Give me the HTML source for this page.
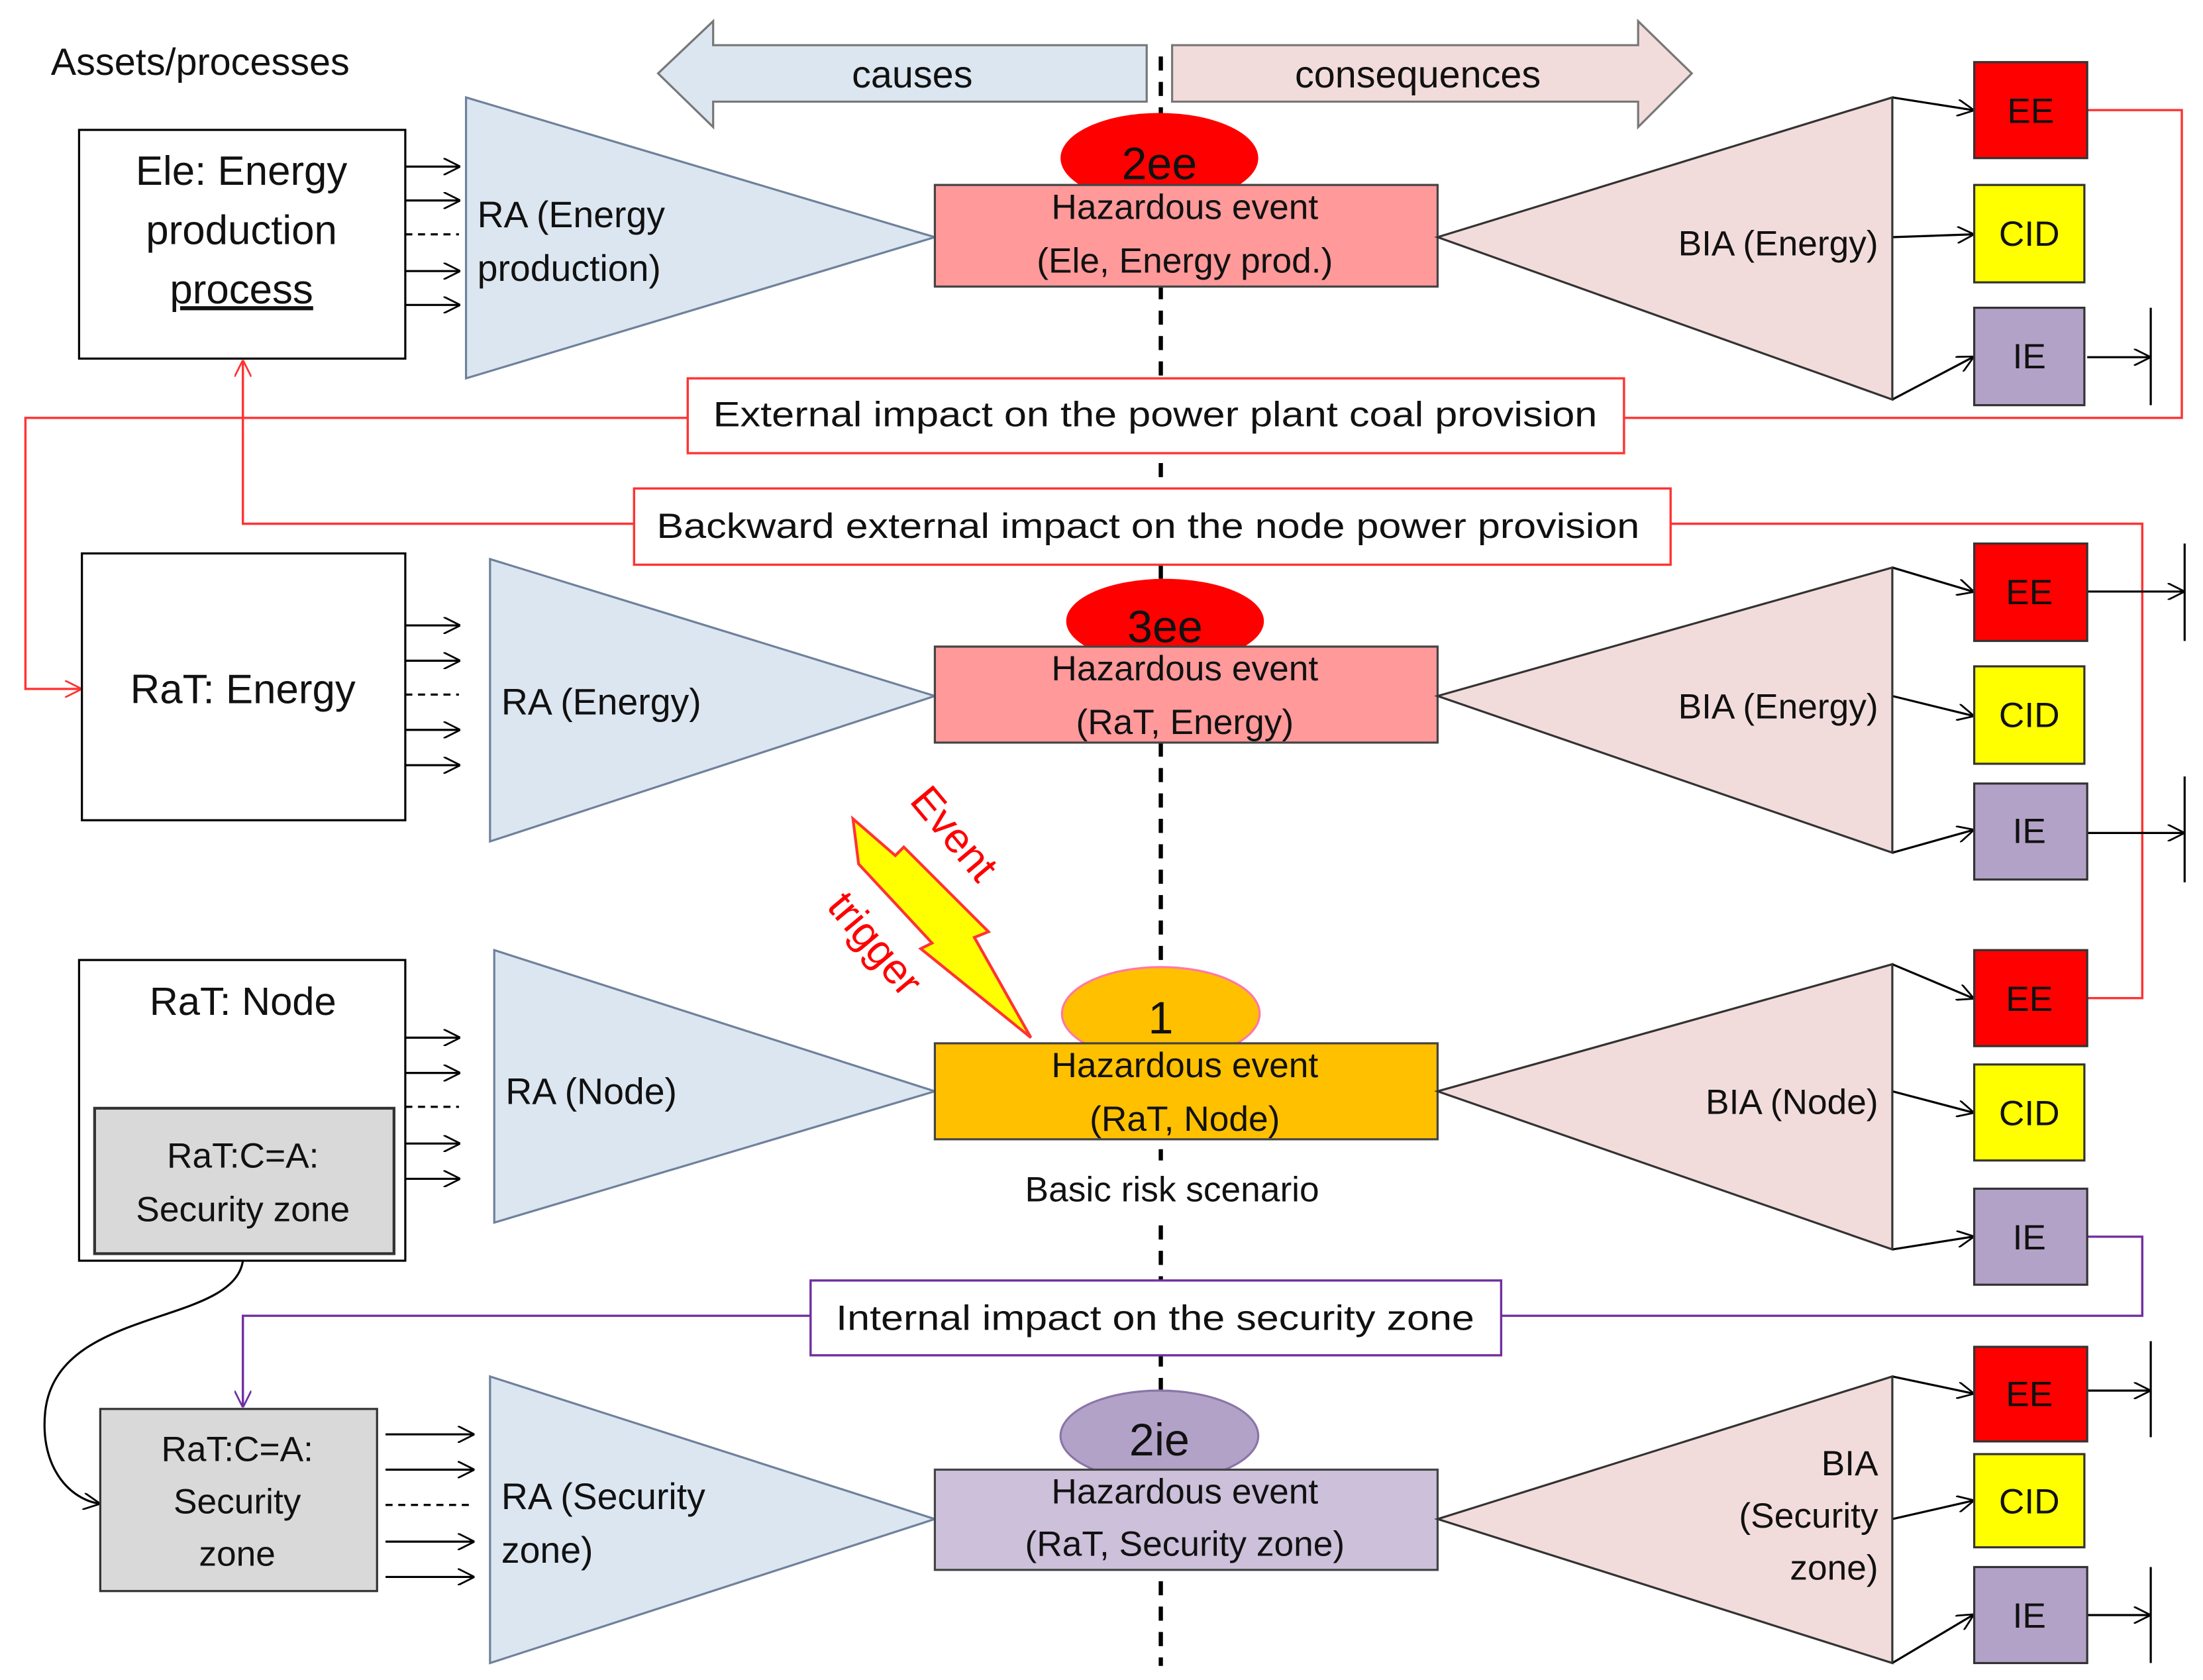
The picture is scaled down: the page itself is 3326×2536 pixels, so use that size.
<!DOCTYPE html>
<html><head><meta charset="utf-8"><style>html,body{margin:0;padding:0;background:#fff}svg{display:block}text{font-family:"Liberation Sans",sans-serif;fill:#111}</style></head>
<body>
<svg width="3326" height="2536" viewBox="0 0 1560 1190" preserveAspectRatio="none" font-size="25" xmlns="http://www.w3.org/2000/svg">
<defs>
<marker id="a" viewBox="0 0 12 12" refX="11" refY="6" markerWidth="12" markerHeight="12" markerUnits="userSpaceOnUse" orient="auto"><path d="M0,0 L12,6 L0,12" fill="none" stroke="#000" stroke-width="1.3"/></marker>
<marker id="ar" viewBox="0 0 12 12" refX="11" refY="6" markerWidth="12" markerHeight="12" markerUnits="userSpaceOnUse" orient="auto"><path d="M0,0 L12,6 L0,12" fill="none" stroke="#f33" stroke-width="1.3"/></marker>
<marker id="ap" viewBox="0 0 12 12" refX="11" refY="6" markerWidth="12" markerHeight="12" markerUnits="userSpaceOnUse" orient="auto"><path d="M0,0 L12,6 L0,12" fill="none" stroke="#7030a0" stroke-width="1.3"/></marker>
</defs>
<rect width="1560" height="1190" fill="#fff"/>
<text x="36" y="53" font-size="27">Assets/processes</text>
<path d="M466,52 L505,15 L505,32 L812,32 L812,72 L505,72 L505,90 Z" fill="#dce6f1" stroke="#777" stroke-width="1.5"/>
<text x="646" y="62" text-anchor="middle" font-size="27">causes</text>
<path d="M830,32 L1160,32 L1160,15 L1198,52 L1160,90 L1160,72 L830,72 Z" fill="#f2dcdb" stroke="#777" stroke-width="1.5"/>
<text x="1004" y="62" text-anchor="middle" font-size="27">consequences</text>
<line x1="822" y1="40" x2="822" y2="1180" stroke="#000" stroke-width="3" stroke-dasharray="10,8"/>

<g fill="none" stroke="#f33" stroke-width="1.6">
<polyline points="1478,78 1545,78 1545,296 1150,296"/>
<polyline points="487,296 18,296 18,488 57,488" marker-end="url(#ar)"/>
<polyline points="1183,371 1517,371 1517,707 1478,707"/>
<polyline points="449,371 172,371 172,256" marker-end="url(#ar)"/>
</g>
<g fill="none" stroke="#7030a0" stroke-width="1.6">
<polyline points="1478,876 1517,876 1517,932 1063,932"/>
<polyline points="574,932 172,932 172,996" marker-end="url(#ap)"/>
</g>
<path d="M172,893 C165,940 40,925 32,1000 C28,1040 50,1062 70,1065" fill="none" stroke="#000" stroke-width="1.5" marker-end="url(#a)"/>

<g stroke="#000" stroke-width="1.5" fill="none">
<line x1="287" y1="118" x2="325" y2="118" marker-end="url(#a)"/><line x1="287" y1="142" x2="325" y2="142" marker-end="url(#a)"/><line x1="287" y1="166" x2="325" y2="166" stroke-dasharray="5,4"/><line x1="287" y1="192" x2="325" y2="192" marker-end="url(#a)"/><line x1="287" y1="216" x2="325" y2="216" marker-end="url(#a)"/>
<line x1="287" y1="443" x2="325" y2="443" marker-end="url(#a)"/><line x1="287" y1="468" x2="325" y2="468" marker-end="url(#a)"/><line x1="287" y1="492" x2="325" y2="492" stroke-dasharray="5,4"/><line x1="287" y1="517" x2="325" y2="517" marker-end="url(#a)"/><line x1="287" y1="542" x2="325" y2="542" marker-end="url(#a)"/>
<line x1="287" y1="735" x2="325" y2="735" marker-end="url(#a)"/><line x1="287" y1="760" x2="325" y2="760" marker-end="url(#a)"/><line x1="287" y1="784" x2="325" y2="784" stroke-dasharray="5,4"/><line x1="287" y1="810" x2="325" y2="810" marker-end="url(#a)"/><line x1="287" y1="835" x2="325" y2="835" marker-end="url(#a)"/>
<line x1="273" y1="1016" x2="335" y2="1016" marker-end="url(#a)"/><line x1="273" y1="1041" x2="335" y2="1041" marker-end="url(#a)"/><line x1="273" y1="1066" x2="335" y2="1066" stroke-dasharray="5,4"/><line x1="273" y1="1092" x2="335" y2="1092" marker-end="url(#a)"/><line x1="273" y1="1117" x2="335" y2="1117" marker-end="url(#a)"/>
<line x1="1340" y1="69" x2="1397" y2="78" marker-end="url(#a)"/><line x1="1340" y1="168" x2="1397" y2="166" marker-end="url(#a)"/><line x1="1340" y1="283" x2="1397" y2="253" marker-end="url(#a)"/>
<line x1="1340" y1="402" x2="1397" y2="419" marker-end="url(#a)"/><line x1="1340" y1="493" x2="1397" y2="507" marker-end="url(#a)"/><line x1="1340" y1="604" x2="1397" y2="588" marker-end="url(#a)"/>
<line x1="1340" y1="683" x2="1397" y2="707" marker-end="url(#a)"/><line x1="1340" y1="773" x2="1397" y2="788" marker-end="url(#a)"/><line x1="1340" y1="885" x2="1397" y2="876" marker-end="url(#a)"/>
<line x1="1340" y1="975" x2="1397" y2="987" marker-end="url(#a)"/><line x1="1340" y1="1076" x2="1397" y2="1063" marker-end="url(#a)"/><line x1="1340" y1="1178" x2="1397" y2="1144" marker-end="url(#a)"/>
<line x1="1478" y1="253" x2="1522" y2="253" marker-end="url(#a)"/><line x1="1523" y1="218" x2="1523" y2="287"/>
<line x1="1478" y1="419" x2="1546" y2="419" marker-end="url(#a)"/><line x1="1547" y1="385" x2="1547" y2="454"/>
<line x1="1478" y1="590" x2="1546" y2="590" marker-end="url(#a)"/><line x1="1547" y1="550" x2="1547" y2="625"/>
<line x1="1478" y1="985" x2="1522" y2="985" marker-end="url(#a)"/><line x1="1523" y1="950" x2="1523" y2="1018"/>
<line x1="1478" y1="1144" x2="1522" y2="1144" marker-end="url(#a)"/><line x1="1523" y1="1110" x2="1523" y2="1178"/>
</g>

<!-- Row 1 -->
<rect x="56" y="92" width="231" height="162" fill="#fff" stroke="#000" stroke-width="1.5"/>
<text x="171" y="131" text-anchor="middle" font-size="29">Ele: Energy</text>
<text x="171" y="173" text-anchor="middle" font-size="29">production</text>
<text x="171" y="215" text-anchor="middle" font-size="29" text-decoration="underline">process</text>
<polygon points="330,69 330,268 662,168" fill="#dce6f1" stroke="#6f819b" stroke-width="1.5"/>
<text x="338" y="161" font-size="26">RA (Energy</text><text x="338" y="199" font-size="26">production)</text>
<ellipse cx="821" cy="112" rx="70" ry="32" fill="#f00"/>
<text x="821" y="127" text-anchor="middle" font-size="32">2ee</text>
<rect x="662" y="131" width="356" height="72" fill="#ff999a" stroke="#444" stroke-width="1.5"/>
<text x="839" y="155" text-anchor="middle">Hazardous event</text><text x="839" y="193" text-anchor="middle">(Ele, Energy prod.)</text>
<polygon points="1018,168 1340,69 1340,283" fill="#f2dcdb" stroke="#333" stroke-width="1.5"/>
<text x="1330" y="181" text-anchor="end">BIA (Energy)</text>
<rect x="1398" y="44" width="80" height="68" fill="#f00" stroke="#333" stroke-width="1.5"/><text x="1438" y="87" text-anchor="middle">EE</text>
<rect x="1398" y="131" width="78" height="69" fill="#ff0" stroke="#333" stroke-width="1.5"/><text x="1437" y="174" text-anchor="middle">CID</text>
<rect x="1398" y="218" width="78" height="69" fill="#b3a2c7" stroke="#333" stroke-width="1.5"/><text x="1437" y="261" text-anchor="middle">IE</text>

<rect x="487" y="268" width="663" height="53" fill="#fff" stroke="#f33" stroke-width="1.6"/>
<text x="818" y="302" text-anchor="middle" textLength="626" lengthAdjust="spacingAndGlyphs">External impact on the power plant coal provision</text>
<rect x="449" y="346" width="734" height="54" fill="#fff" stroke="#f33" stroke-width="1.6"/>
<text x="813" y="381" text-anchor="middle" textLength="696" lengthAdjust="spacingAndGlyphs">Backward external impact on the node power provision</text>

<!-- Row 2 -->
<rect x="58" y="392" width="229" height="189" fill="#fff" stroke="#000" stroke-width="1.5"/>
<text x="172" y="498" text-anchor="middle" font-size="29">RaT: Energy</text>
<polygon points="347,396 347,596 662,493" fill="#dce6f1" stroke="#6f819b" stroke-width="1.5"/>
<text x="355" y="506" font-size="26">RA (Energy)</text>
<ellipse cx="825" cy="440" rx="70" ry="30" fill="#f00"/>
<text x="825" y="455" text-anchor="middle" font-size="32">3ee</text>
<rect x="662" y="458" width="356" height="68" fill="#ff999a" stroke="#444" stroke-width="1.5"/>
<text x="839" y="482" text-anchor="middle">Hazardous event</text><text x="839" y="520" text-anchor="middle">(RaT, Energy)</text>
<polygon points="1018,493 1340,402 1340,604" fill="#f2dcdb" stroke="#333" stroke-width="1.5"/>
<text x="1330" y="509" text-anchor="end">BIA (Energy)</text>
<rect x="1398" y="385" width="80" height="69" fill="#f00" stroke="#333" stroke-width="1.5"/><text x="1437" y="428" text-anchor="middle">EE</text>
<rect x="1398" y="472" width="78" height="69" fill="#ff0" stroke="#333" stroke-width="1.5"/><text x="1437" y="515" text-anchor="middle">CID</text>
<rect x="1398" y="555" width="80" height="68" fill="#b3a2c7" stroke="#333" stroke-width="1.5"/><text x="1437" y="597" text-anchor="middle">IE</text>

<polygon points="604,580 608,612 660,668 652,672 730,735 690,664 700,660 640,600 634,606" fill="#ff0" stroke="#f33" stroke-width="2"/>
<text x="668" y="597" font-size="30" text-anchor="middle" transform="rotate(50 668 597)" style="fill:#f00">Event</text>
<text x="612" y="675" font-size="30" text-anchor="middle" transform="rotate(50 612 675)" style="fill:#f00">trigger</text>

<!-- Row 3 -->
<rect x="56" y="680" width="231" height="213" fill="#fff" stroke="#000" stroke-width="1.5"/>
<text x="172" y="719" text-anchor="middle" font-size="28">RaT: Node</text>
<rect x="67" y="785" width="212" height="103" fill="#d9d9d9" stroke="#333" stroke-width="2"/>
<text x="172" y="827" text-anchor="middle">RaT:C=A:</text><text x="172" y="865" text-anchor="middle">Security zone</text>
<polygon points="350,673 350,866 662,773" fill="#dce6f1" stroke="#6f819b" stroke-width="1.5"/>
<text x="358" y="782" font-size="26">RA (Node)</text>
<ellipse cx="822" cy="718" rx="70" ry="33" fill="#ffc000" stroke="#f7a" stroke-width="1.5"/>
<text x="822" y="732" text-anchor="middle" font-size="32">1</text>
<rect x="662" y="739" width="356" height="68" fill="#ffc000" stroke="#444" stroke-width="1.5"/>
<text x="839" y="763" text-anchor="middle">Hazardous event</text><text x="839" y="801" text-anchor="middle">(RaT, Node)</text>
<rect x="700" y="822" width="260" height="40" fill="#fff"/>
<text x="830" y="851" text-anchor="middle">Basic risk scenario</text>
<polygon points="1018,773 1340,683 1340,885" fill="#f2dcdb" stroke="#333" stroke-width="1.5"/>
<text x="1330" y="789" text-anchor="end">BIA (Node)</text>
<rect x="1398" y="673" width="80" height="68" fill="#f00" stroke="#333" stroke-width="1.5"/><text x="1437" y="716" text-anchor="middle">EE</text>
<rect x="1398" y="754" width="78" height="68" fill="#ff0" stroke="#333" stroke-width="1.5"/><text x="1437" y="797" text-anchor="middle">CID</text>
<rect x="1398" y="842" width="80" height="68" fill="#b3a2c7" stroke="#333" stroke-width="1.5"/><text x="1437" y="885" text-anchor="middle">IE</text>

<rect x="574" y="907" width="489" height="53" fill="#fff" stroke="#7030a0" stroke-width="1.6"/>
<text x="818" y="942" text-anchor="middle" textLength="452" lengthAdjust="spacingAndGlyphs">Internal impact on the security zone</text>

<!-- Row 4 -->
<rect x="71" y="998" width="196" height="129" fill="#d9d9d9" stroke="#333" stroke-width="1.5"/>
<text x="168" y="1035" text-anchor="middle">RaT:C=A:</text><text x="168" y="1072" text-anchor="middle">Security</text><text x="168" y="1109" text-anchor="middle">zone</text>
<polygon points="347,975 347,1178 662,1076" fill="#dce6f1" stroke="#6f819b" stroke-width="1.5"/>
<text x="355" y="1069" font-size="26">RA (Security</text><text x="355" y="1107" font-size="26">zone)</text>
<ellipse cx="821" cy="1017" rx="70" ry="32" fill="#b3a2c7" stroke="#8a75a8" stroke-width="1.5"/>
<text x="821" y="1031" text-anchor="middle" font-size="32">2ie</text>
<rect x="662" y="1041" width="356" height="71" fill="#ccc0da" stroke="#444" stroke-width="1.5"/>
<text x="839" y="1065" text-anchor="middle">Hazardous event</text><text x="839" y="1102" text-anchor="middle">(RaT, Security zone)</text>
<polygon points="1018,1076 1340,975 1340,1178" fill="#f2dcdb" stroke="#333" stroke-width="1.5"/>
<text x="1330" y="1045" text-anchor="end">BIA</text><text x="1330" y="1082" text-anchor="end">(Security</text><text x="1330" y="1119" text-anchor="end">zone)</text>
<rect x="1398" y="954" width="80" height="67" fill="#f00" stroke="#333" stroke-width="1.5"/><text x="1437" y="996" text-anchor="middle">EE</text>
<rect x="1398" y="1030" width="78" height="66" fill="#ff0" stroke="#333" stroke-width="1.5"/><text x="1437" y="1072" text-anchor="middle">CID</text>
<rect x="1398" y="1110" width="80" height="68" fill="#b3a2c7" stroke="#333" stroke-width="1.5"/><text x="1437" y="1153" text-anchor="middle">IE</text>
</svg>
</body></html>
